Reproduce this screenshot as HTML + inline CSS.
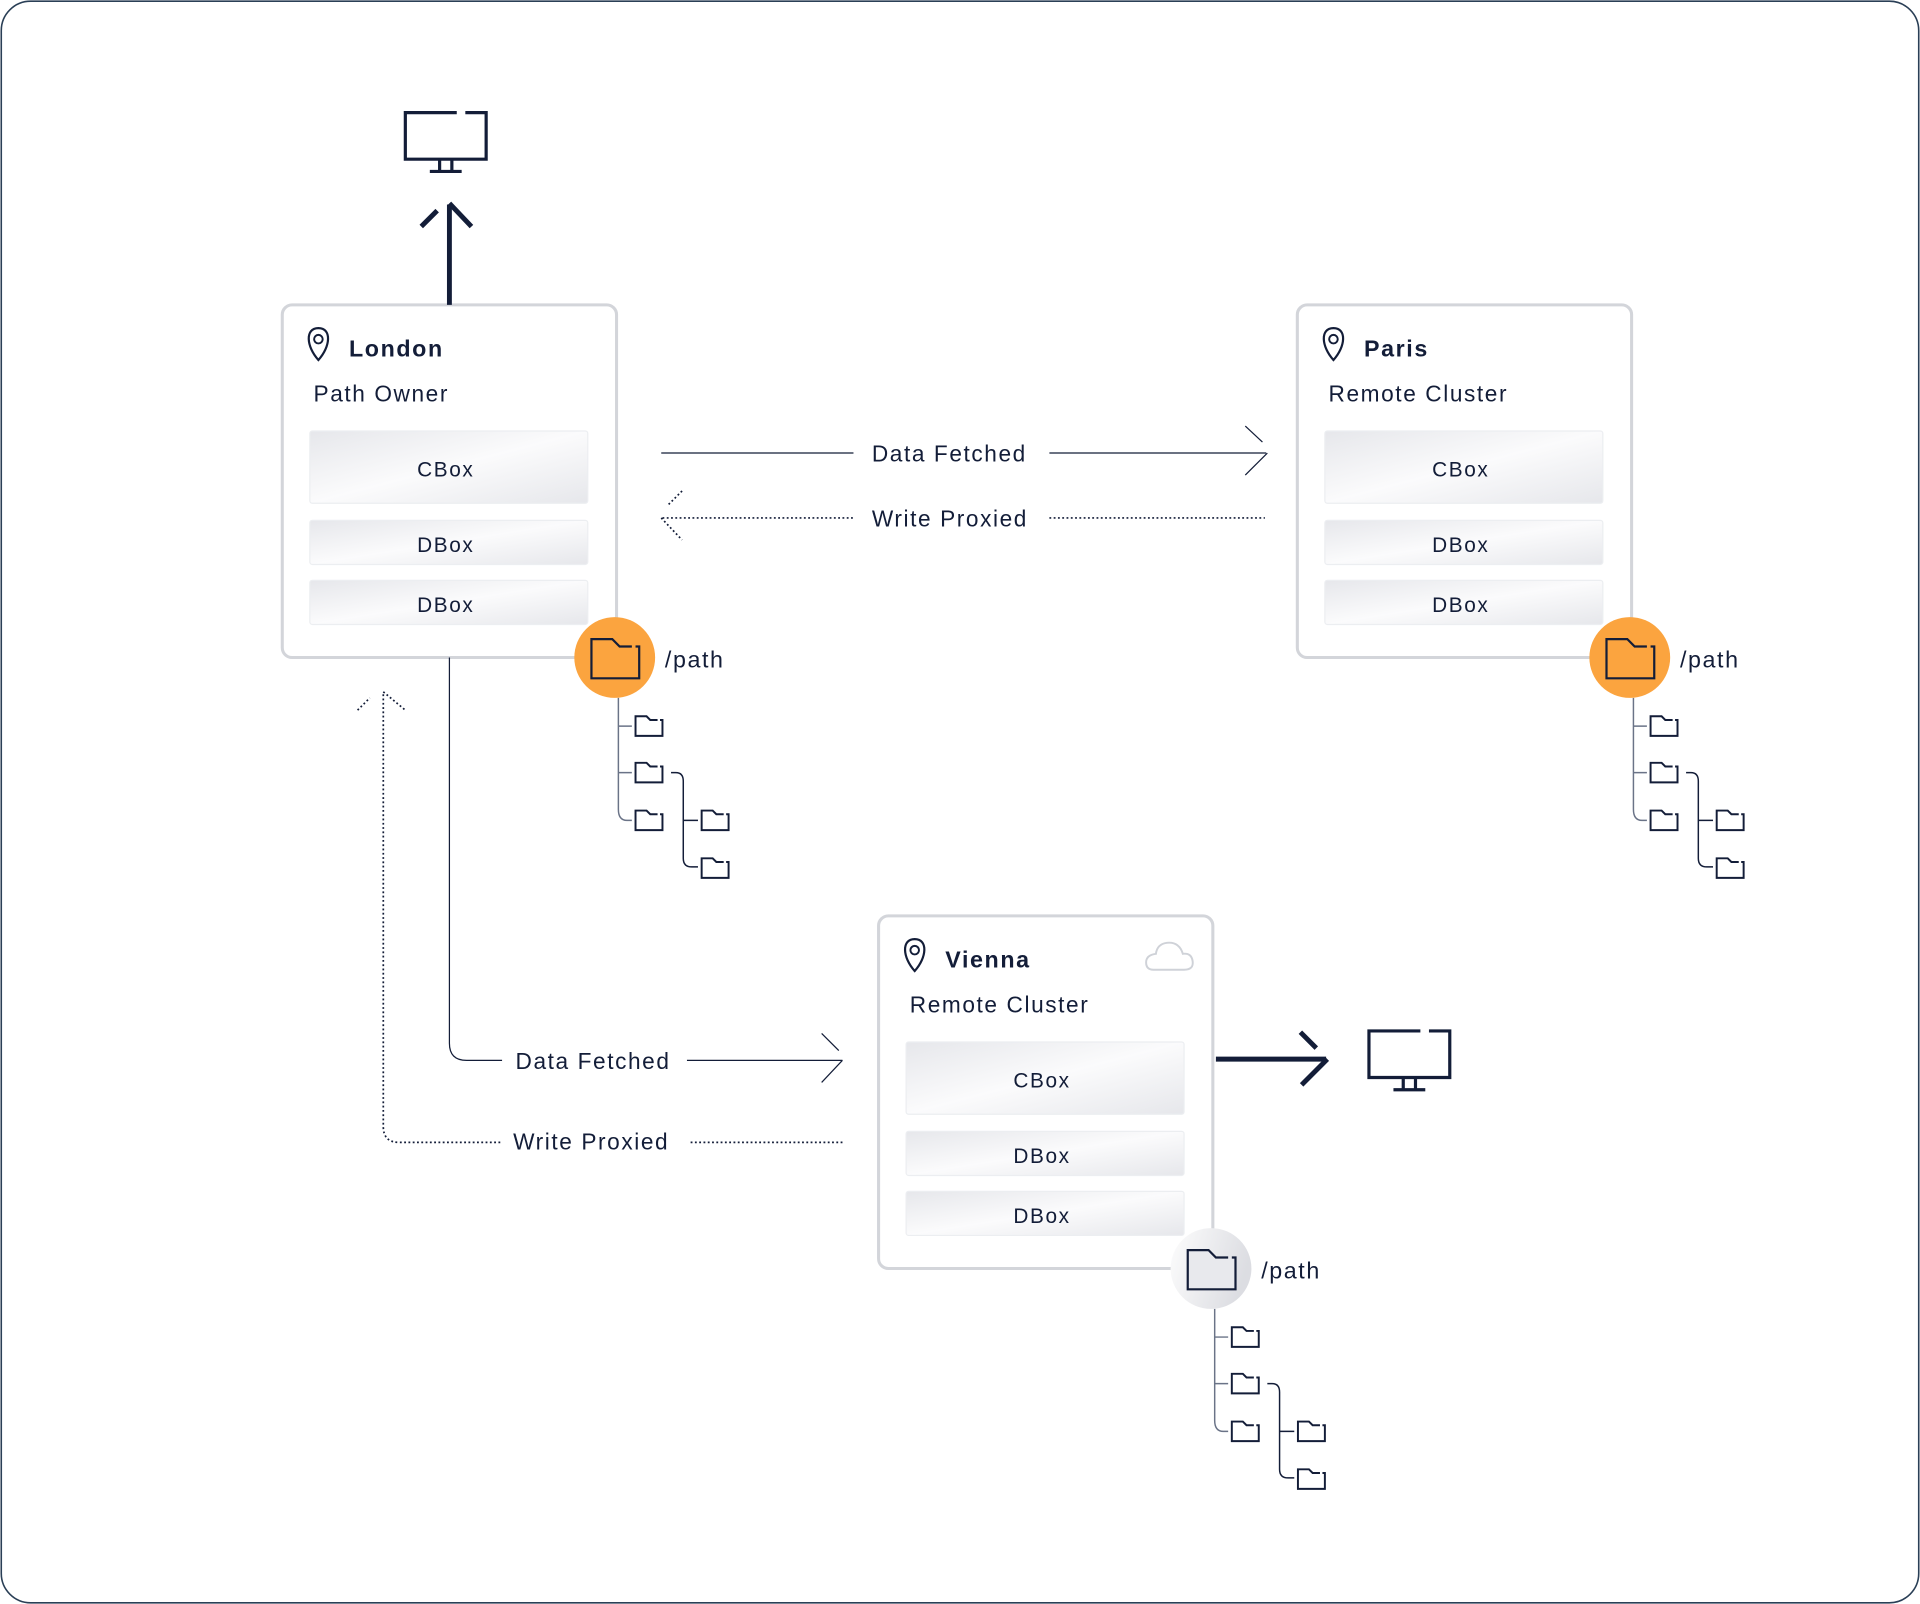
<!DOCTYPE html>
<html><head><meta charset="utf-8"><style>
html,body{margin:0;padding:0;background:#fff;}
svg{display:block;}
text{font-family:"Liberation Sans",sans-serif;fill:#131d38;letter-spacing:1.3px;}
</style></head><body>
<svg width="1920" height="1604" viewBox="0 0 1568 1310" xmlns="http://www.w3.org/2000/svg">
<defs>
<linearGradient id="gb" x1="0" y1="0" x2="1" y2="1">
<stop offset="0" stop-color="#e6e7eb"/><stop offset="0.5" stop-color="#fbfbfc"/><stop offset="1" stop-color="#e6e7eb"/>
</linearGradient>
<linearGradient id="gc" x1="0" y1="0" x2="1" y2="0.3">
<stop offset="0" stop-color="#fdfdfd"/><stop offset="1" stop-color="#dcdde2"/>
</linearGradient>
<g id="fold"><path d="M18 3 H12 L9 0 H0 V16 H22 V3 H20" fill="none" stroke="#131d38" stroke-width="1.6"/></g>
<g id="bigfold"><path d="M33 6 H23 L17 0 H0 V32 H39 V6 H36" stroke="#131d38" stroke-width="1.8"/></g>
<g id="tree">
<path d="M275 321 V412 Q275 421 282 421 H286 M275 344 H286 M275 382 H286" fill="none" stroke="#6a7387" stroke-width="1.2"/>
<path d="M318 382 H322 Q328 382 328 389 V452 Q328 459 335 459 H340 M328 421 H340" fill="none" stroke="#131d38" stroke-width="1.2"/>
<use href="#fold" x="289" y="336"/><use href="#fold" x="289" y="374"/><use href="#fold" x="289" y="413"/>
<use href="#fold" x="343" y="413"/><use href="#fold" x="343" y="452"/>
</g>
<g id="pin"><path d="M0 14 C-10 3 -11 -12 0 -12 C11 -12 10 3 0 14 Z" fill="none" stroke="#131d38" stroke-width="1.8"/><circle cx="0" cy="-3" r="3.5" fill="none" stroke="#131d38" stroke-width="1.6"/></g>
<g id="boxes">
<rect x="0.5" y="0" width="273" height="288" rx="8" fill="#fff" stroke="#d3d5da" stroke-width="2.5"/>
<rect x="23" y="103" width="227" height="59" rx="2" fill="url(#gb)" stroke="#eceef1"/>
<rect x="23" y="176" width="227" height="36" rx="2" fill="url(#gb)" stroke="#eceef1"/>
<rect x="23" y="225" width="227" height="36" rx="2" fill="url(#gb)" stroke="#eceef1"/>
<use href="#pin" x="30" y="31"/>
<use href="#tree"/>
</g>
<g id="monitor" fill="none" stroke="#131d38" stroke-width="2.6"><path d="M42 1 H0 V39 H66 V1 H49"/><path d="M28 39 V48 M38 39 V48 M20 49 H46"/></g>
</defs>
<rect x="1" y="1" width="1566" height="1308" rx="24" fill="#fff" stroke="#2a3f56" stroke-width="1.3"/>

<!-- London -->
<g transform="translate(230,249)">
<use href="#boxes"/>
<circle cx="272" cy="288" r="33" fill="#fba43f"/>
<use href="#bigfold" x="253" y="273" fill="#fba43f"/>
<text x="55" y="42" font-size="19" font-weight="bold">London</text>
<text x="26" y="79" font-size="18.5">Path Owner</text>
<text x="134" y="140" font-size="17" text-anchor="middle">CBox</text>
<text x="134" y="202" font-size="17" text-anchor="middle">DBox</text>
<text x="134" y="251" font-size="17" text-anchor="middle">DBox</text>
<text x="313" y="296" font-size="19">/path</text>
</g>
<!-- Paris -->
<g transform="translate(1059,249)">
<use href="#boxes"/>
<circle cx="272" cy="288" r="33" fill="#fba43f"/>
<use href="#bigfold" x="253" y="273" fill="#fba43f"/>
<text x="55" y="42" font-size="19" font-weight="bold">Paris</text>
<text x="26" y="79" font-size="18.5">Remote Cluster</text>
<text x="134" y="140" font-size="17" text-anchor="middle">CBox</text>
<text x="134" y="202" font-size="17" text-anchor="middle">DBox</text>
<text x="134" y="251" font-size="17" text-anchor="middle">DBox</text>
<text x="313" y="296" font-size="19">/path</text>
</g>
<!-- Vienna -->
<g transform="translate(717,748)">
<use href="#boxes"/>
<circle cx="272" cy="288" r="33" fill="url(#gc)"/>
<use href="#bigfold" x="253" y="273" fill="#e8e9ed"/>
<path d="M225 44 H250 Q258 44 257 37 Q256 30 249 31 Q246 21 236 22 Q228 23 227 31 Q219 32 219 38 Q219 44 225 44 Z" fill="none" stroke="#cfd2d8" stroke-width="1.6"/>
<text x="55" y="42" font-size="19" font-weight="bold">Vienna</text>
<text x="26" y="79" font-size="18.5">Remote Cluster</text>
<text x="134" y="140" font-size="17" text-anchor="middle">CBox</text>
<text x="134" y="202" font-size="17" text-anchor="middle">DBox</text>
<text x="134" y="251" font-size="17" text-anchor="middle">DBox</text>
<text x="313" y="296" font-size="19">/path</text>
</g>

<!-- top arrow -->
<path d="M367 249 V167" stroke="#131d38" stroke-width="4" fill="none"/>
<path d="M344 185 L357 172 M367 166 L385 185" stroke="#131d38" stroke-width="4" fill="none"/>
<use href="#monitor" x="331" y="91"/>

<!-- Vienna right arrow -->
<path d="M993 865 H1083" stroke="#131d38" stroke-width="4" fill="none"/>
<path d="M1062 843 L1075 856 M1084 865 L1063 886" stroke="#131d38" stroke-width="4" fill="none"/>
<use href="#monitor" x="1118" y="841"/>

<!-- horizontal London-Paris -->
<path d="M540 370 H697 M857 370 H1034" stroke="#131d38" stroke-width="1" fill="none"/>
<path d="M1017 348 L1031 361 M1035 370 L1017 388" stroke="#131d38" stroke-width="1" fill="none"/>
<text x="712" y="377" font-size="18.5">Data Fetched</text>
<path d="M541 423 H697 M857 423 H1033" stroke="#131d38" stroke-width="1.4" stroke-dasharray="1.5 2" fill="none"/>
<path d="M557 401 L546 412 M540 423 L557 441" stroke="#131d38" stroke-width="1.4" stroke-dasharray="1.5 2" fill="none"/>
<text x="712" y="430" font-size="18.5">Write Proxied</text>

<!-- London-Vienna -->
<path d="M367 537 V852 Q367 866 381 866 H410 M561 866 H688" stroke="#131d38" stroke-width="1" fill="none"/>
<path d="M671 844 L685 858 M688 866 L671 884" stroke="#131d38" stroke-width="1" fill="none"/>
<text x="421" y="873" font-size="18.5">Data Fetched</text>
<path d="M313 567 V920 Q313 933 326 933 H410 M564 933 H688" stroke="#131d38" stroke-width="1.4" stroke-dasharray="1.5 2" fill="none"/>
<path d="M292 580 L302 570 M313 565 L331 580" stroke="#131d38" stroke-width="1.4" stroke-dasharray="1.5 2" fill="none"/>
<text x="419" y="939" font-size="18.5">Write Proxied</text>
</svg>
</body></html>
